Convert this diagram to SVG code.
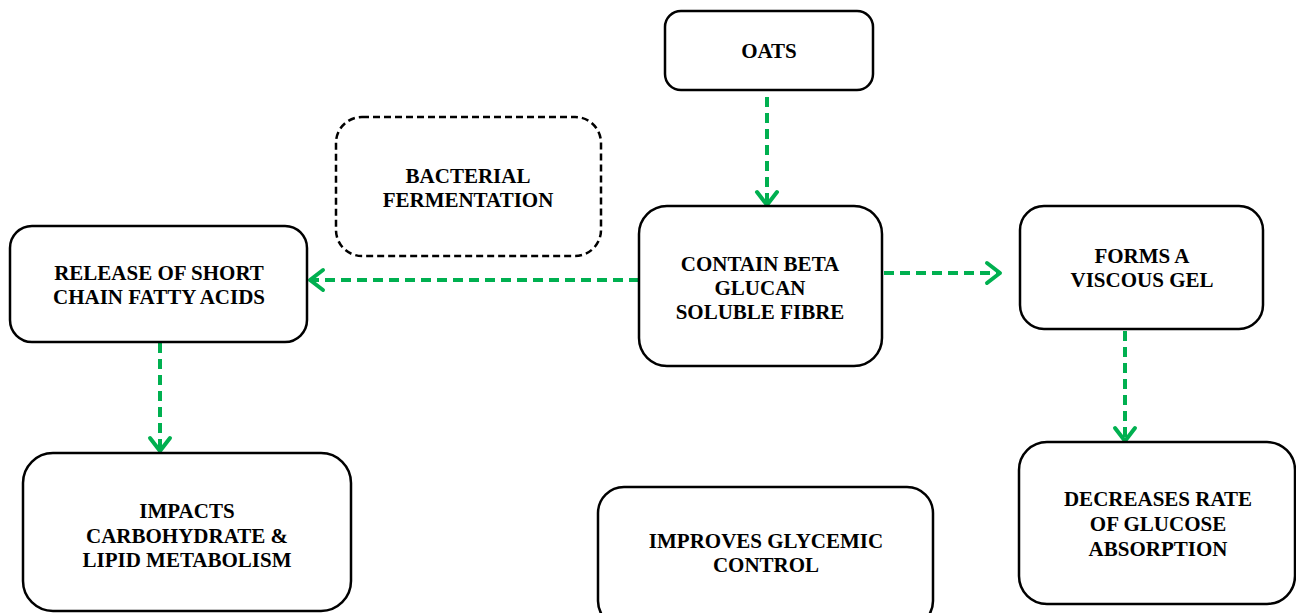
<svg xmlns="http://www.w3.org/2000/svg" width="1296" height="613" viewBox="0 0 1296 613">
  <defs>
    <style>
      .box { fill: #ffffff; stroke: #000000; stroke-width: 2.5; }
      .dashed { stroke-dasharray: 7 4; }
      .label { font-family: "Liberation Serif", "Times New Roman", serif; font-weight: bold; font-size: 21px; fill: #000000; text-anchor: middle; }
      .flow { fill: none; stroke: #00B050; stroke-width: 4; stroke-dasharray: 10 6; }
      .head { fill: none; stroke: #00B050; stroke-width: 4; stroke-linecap: round; stroke-linejoin: round; }
    </style>
  </defs>
  <rect width="1296" height="613" fill="#ffffff"/>

  <g id="connectors">
    <!-- oats to fibre -->
    <path class="flow" d="M767 97 V204"/>
    <path class="head" d="M757 192 L767 205 L777 192"/>
    <!-- fibre to short chain fatty acids -->
    <path class="flow" d="M639 280 H311"/>
    <path class="head" d="M323 270 L310 280 L323 290"/>
    <!-- fibre to viscous gel -->
    <path class="flow" d="M884 273 H998"/>
    <path class="head" d="M987 263 L1000 273 L987 283"/>
    <!-- viscous gel to glucose absorption -->
    <path class="flow" d="M1125 331 V439"/>
    <path class="head" d="M1115 428 L1125 441 L1135 428"/>
    <!-- fatty acids to metabolism -->
    <path class="flow" d="M160 343 V450"/>
    <path class="head" d="M150 438 L160 451 L170 438"/>
  </g>

  <g id="oats">
    <rect class="box" x="665" y="11" width="208" height="79" rx="16"/>
    <text class="label" x="769" y="58">OATS</text>
  </g>

  <g id="bacterial-fermentation">
    <rect class="box dashed" x="336" y="117" width="265" height="139" rx="26"/>
    <text class="label" x="468" y="183">BACTERIAL</text>
    <text class="label" x="468" y="207">FERMENTATION</text>
  </g>

  <g id="beta-glucan">
    <rect class="box" x="639" y="206" width="243" height="160" rx="28"/>
    <text class="label" x="760" y="271">CONTAIN BETA</text>
    <text class="label" x="760" y="295">GLUCAN</text>
    <text class="label" x="760" y="319">SOLUBLE FIBRE</text>
  </g>

  <g id="short-chain-fatty-acids">
    <rect class="box" x="10" y="226" width="297" height="116" rx="22"/>
    <text class="label" x="159" y="280">RELEASE OF SHORT</text>
    <text class="label" x="159" y="304">CHAIN FATTY ACIDS</text>
  </g>

  <g id="viscous-gel">
    <rect class="box" x="1020" y="206" width="243" height="123" rx="24"/>
    <text class="label" x="1142" y="263">FORMS A</text>
    <text class="label" x="1142" y="287">VISCOUS GEL</text>
  </g>

  <g id="metabolism">
    <rect class="box" x="23" y="453" width="328" height="158" rx="30"/>
    <text class="label" x="187" y="518">IMPACTS</text>
    <text class="label" x="187" y="543">CARBOHYDRATE &amp;</text>
    <text class="label" x="187" y="567">LIPID METABOLISM</text>
  </g>

  <g id="glycemic-control">
    <rect class="box" x="598" y="487" width="335" height="140" rx="26"/>
    <text class="label" x="766" y="548">IMPROVES GLYCEMIC</text>
    <text class="label" x="766" y="572">CONTROL</text>
  </g>

  <g id="glucose-absorption">
    <rect class="box" x="1019" y="442" width="276" height="162" rx="28"/>
    <text class="label" x="1158" y="506">DECREASES RATE</text>
    <text class="label" x="1158" y="531">OF GLUCOSE</text>
    <text class="label" x="1158" y="556">ABSORPTION</text>
  </g>
</svg>
